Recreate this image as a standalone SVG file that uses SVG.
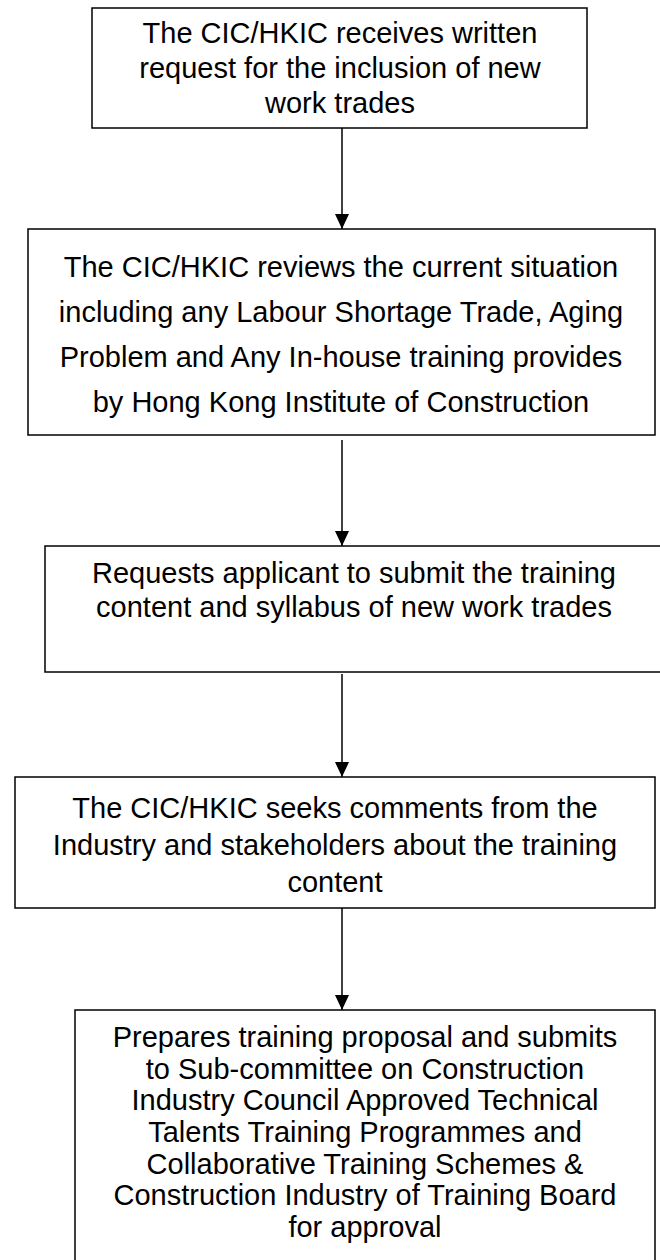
<svg xmlns="http://www.w3.org/2000/svg" width="660" height="1260" viewBox="0 0 660 1260">
<style>
.box{fill:#fff;stroke:#000;stroke-width:1.5}
.t{font-family:"Liberation Sans",Arial,sans-serif;font-size:29px;fill:#000;text-anchor:middle}
.c{stroke:#000;stroke-width:1.5;fill:none}
</style>
<defs>
<marker id="ah" markerUnits="userSpaceOnUse" markerWidth="16" markerHeight="16" viewBox="0 0 16 16" refX="15" refY="8" orient="auto">
<path d="M0,1 L15,8 L0,15 z" fill="#000"/>
</marker>
</defs>
<rect width="660" height="1260" fill="#fff"/>
<g id="n1">
<rect class="box" x="92" y="8" width="495" height="120"/>
<text class="t" x="340" y="43">The CIC/HKIC receives written</text>
<text class="t" x="340" y="78">request for the inclusion of new</text>
<text class="t" x="340" y="113">work trades</text>
</g>
<g id="n2">
<rect class="box" x="28" y="229" width="627" height="206"/>
<text class="t" x="341" y="277">The CIC/HKIC reviews the current situation</text>
<text class="t" x="341" y="322">including any Labour Shortage Trade, Aging</text>
<text class="t" x="341" y="367">Problem and Any In-house training provides</text>
<text class="t" x="341" y="412">by Hong Kong Institute of Construction</text>
</g>
<g id="n3">
<rect class="box" x="45" y="546" width="640" height="126"/>
<text class="t" x="354" y="583">Requests applicant to submit the training</text>
<text class="t" x="354" y="617">content and syllabus of new work trades</text>
</g>
<g id="n4">
<rect class="box" x="15" y="777" width="640" height="131"/>
<text class="t" x="335" y="818">The CIC/HKIC seeks comments from the</text>
<text class="t" x="335" y="855">Industry and stakeholders about the training</text>
<text class="t" x="335" y="892">content</text>
</g>
<g id="n5">
<rect class="box" x="75" y="1010" width="580" height="280"/>
<text class="t" x="365" y="1047">Prepares training proposal and submits</text>
<text class="t" x="365" y="1079">to Sub-committee on Construction</text>
<text class="t" x="365" y="1110">Industry Council Approved Technical</text>
<text class="t" x="365" y="1142">Talents Training Programmes and</text>
<text class="t" x="365" y="1174">Collaborative Training Schemes &amp;</text>
<text class="t" x="365" y="1205">Construction Industry of Training Board</text>
<text class="t" x="365" y="1237">for approval</text>
</g>
<g id="connectors">
<line class="c" x1="342" y1="128" x2="342" y2="229" marker-end="url(#ah)"/>
<line class="c" x1="342" y1="440" x2="342" y2="546" marker-end="url(#ah)"/>
<line class="c" x1="342" y1="674" x2="342" y2="777" marker-end="url(#ah)"/>
<line class="c" x1="342" y1="908" x2="342" y2="1010" marker-end="url(#ah)"/>
</g>
</svg>
